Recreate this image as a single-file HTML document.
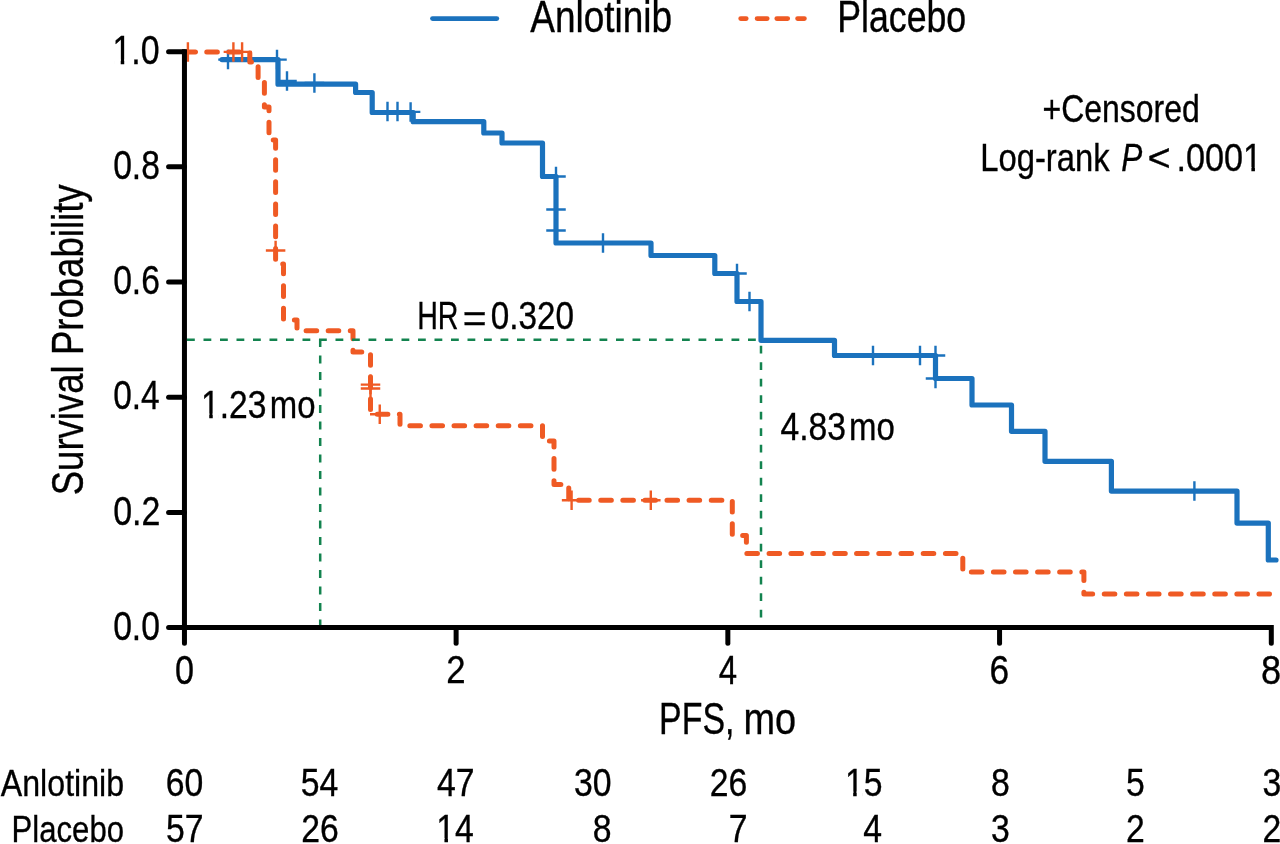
<!DOCTYPE html><html><head><meta charset="utf-8"><style>html,body{margin:0;padding:0;background:#fff;width:1280px;height:844px;overflow:hidden}svg{display:block;will-change:transform}text{font-family:"Liberation Sans",sans-serif;fill:#000;stroke:#000;stroke-width:0.35px}</style></head><body>
<svg width="1280" height="844" viewBox="0 0 1280 844">
<line x1="432.5" y1="18.6" x2="496.8" y2="18.6" stroke="#1b72bd" stroke-width="4.8" stroke-linecap="round"/>
<path d="M740.7 18.6H804.4" stroke="#ef5a24" stroke-width="4.8" stroke-linecap="round" stroke-dasharray="5.5 10.9 10.1 9.6 10.9 9.9 6.8 100"/>
<text transform="translate(530.30,31.67) scale(0.8504,1)" font-size="43.50">Anlotinib</text>
<text transform="translate(837.14,31.67) scale(0.8214,1)" font-size="43.50">Placebo</text>
<text transform="translate(112.49,63.90) scale(0.8494,1)" font-size="39.86">1.0</text>
<text transform="translate(113.15,179.09) scale(0.8446,1)" font-size="39.86">0.8</text>
<text transform="translate(113.15,294.28) scale(0.8446,1)" font-size="39.86">0.6</text>
<text transform="translate(113.16,409.47) scale(0.8382,1)" font-size="39.86">0.4</text>
<text transform="translate(113.14,524.66) scale(0.8511,1)" font-size="39.86">0.2</text>
<text transform="translate(113.15,639.85) scale(0.8446,1)" font-size="39.86">0.0</text>
<text transform="translate(174.93,683.60) scale(0.8512,1)" font-size="40.14">0</text>
<text transform="translate(446.36,683.00) scale(0.8919,1)" font-size="39.00">2</text>
<text transform="translate(718.84,683.90) scale(0.8205,1)" font-size="40.15">4</text>
<text transform="translate(989.48,683.60) scale(0.8801,1)" font-size="40.14">6</text>
<text transform="translate(1261.05,683.60) scale(0.9011,1)" font-size="40.14">8</text>
<text transform="translate(659.08,733.65) scale(0.7629,1)" font-size="44.50">PFS,</text>
<text transform="translate(743.55,733.90) scale(0.8515,1)" font-size="44.50">mo</text>
<text transform="translate(417.21,329.00) scale(0.7235,1)" font-size="39.57">HR</text>
<text transform="translate(462.76,332.40) scale(1.0338,1)" font-size="39.50">=</text>
<text transform="translate(490.87,329.01) scale(0.8526,1)" font-size="39.01">0.320</text>
<text transform="translate(201.06,417.61) scale(0.8657,1)" font-size="38.87">1.23</text>
<text transform="translate(269.80,417.70) scale(0.8433,1)" font-size="39.00">mo</text>
<text transform="translate(780.43,440.31) scale(0.8599,1)" font-size="39.15">4.83</text>
<text transform="translate(849.09,440.40) scale(0.8454,1)" font-size="39.00">mo</text>
<text transform="translate(1042.50,121.80) scale(0.8311,1)" font-size="38.50">+Censored</text>
<text transform="translate(980.28,171.40) scale(0.8301,1)" font-size="39.50">Log-rank</text>
<text transform="translate(1121.15,171.40) scale(0.7997,1)" font-size="39.50"><tspan font-style="italic">P</tspan></text>
<text transform="translate(1147.51,171.40) scale(1.0075,1)" font-size="39.50">&lt;</text>
<text transform="translate(1176.52,171.40) scale(0.8657,1)" font-size="39.50">.0001</text>
<text transform="translate(0.80,795.60) scale(0.8554,1)" font-size="37.60">Anlotinib</text>
<text transform="translate(11.61,842.30) scale(0.8320,1)" font-size="37.40">Placebo</text>
<text transform="translate(82.6,495.33) rotate(-90) scale(0.8126,1)" font-size="45.0">Survival Probability</text>
<text transform="translate(165.68,795.6) scale(0.87,1)" font-size="38.8">60</text>
<text transform="translate(166.02,842.4) scale(0.87,1)" font-size="38.8">57</text>
<text transform="translate(300.84,795.6) scale(0.87,1)" font-size="38.8">54</text>
<text transform="translate(301.18,842.4) scale(0.87,1)" font-size="38.8">26</text>
<text transform="translate(436.92,795.6) scale(0.87,1)" font-size="38.8">47</text>
<text transform="translate(436.24,842.4) scale(0.87,1)" font-size="38.8">14</text>
<text transform="translate(573.88,795.6) scale(0.87,1)" font-size="38.8">30</text>
<text transform="translate(592.78,842.4) scale(0.87,1)" font-size="38.8">8</text>
<text transform="translate(709.78,795.6) scale(0.87,1)" font-size="38.8">26</text>
<text transform="translate(728.68,842.4) scale(0.87,1)" font-size="38.8">7</text>
<text transform="translate(844.98,795.6) scale(0.87,1)" font-size="38.8">15</text>
<text transform="translate(863.21,842.4) scale(0.87,1)" font-size="38.8">4</text>
<text transform="translate(990.88,795.6) scale(0.87,1)" font-size="38.8">8</text>
<text transform="translate(990.88,842.4) scale(0.87,1)" font-size="38.8">3</text>
<text transform="translate(1125.88,795.6) scale(0.87,1)" font-size="38.8">5</text>
<text transform="translate(1125.88,842.4) scale(0.87,1)" font-size="38.8">2</text>
<text transform="translate(1262.38,795.6) scale(0.87,1)" font-size="38.8">3</text>
<text transform="translate(1262.38,842.4) scale(0.87,1)" font-size="38.8">2</text>
<rect x="114.18" y="59.51" width="6.53" height="5.99" fill="#fff"/>
<rect x="124.24" y="59.51" width="6.20" height="5.99" fill="#fff"/>
<rect x="202.74" y="413.31" width="6.50" height="5.89" fill="#fff"/>
<rect x="212.74" y="413.31" width="6.16" height="5.89" fill="#fff"/>
<rect x="1244.78" y="167.04" width="6.60" height="5.95" fill="#fff"/>
<rect x="1254.93" y="167.04" width="6.26" height="5.95" fill="#fff"/>
<rect x="437.93" y="838.10" width="6.51" height="5.88" fill="#fff"/>
<rect x="447.96" y="838.10" width="6.18" height="5.88" fill="#fff"/>
<rect x="846.67" y="791.30" width="6.51" height="5.88" fill="#fff"/>
<rect x="856.69" y="791.30" width="6.18" height="5.88" fill="#fff"/>
<path d="M222 59.6 L278 59.6 L278 84.2 L355.6 84.2 L355.6 92.5 L372.2 92.5 L372.2 112.5 L413.2 112.5 L413.2 121.7 L483.8 121.7 L483.8 133.0 L502 133.0 L502 143.0 L542.5 143.0 L542.5 176.5 L556 176.5 L556 243.0 L651 243.0 L651 255.5 L714.8 255.5 L714.8 273.5 L737 273.5 L737 301.5 L761 301.5 L761 340.3 L834.5 340.3 L834.5 355.5 L935.5 355.5 L935.5 378.5 L972 378.5 L972 405.0 L1011.5 405.0 L1011.5 431.3 L1045 431.3 L1045 461.3 L1111.4 461.3 L1111.4 491.1 L1237 491.1 L1237 523.1 L1268.3 523.1 L1268.3 560.0 L1276 560.0" stroke="#1b72bd" stroke-width="5.2" fill="none" stroke-linejoin="round" stroke-linecap="round"/>
<g stroke="#1b72bd" stroke-width="2.4" fill="none">
<path d="M218.25 59.60h19.5M228.00 49.85v19.5"/>
<path d="M267.25 59.60h19.5M277.00 49.85v19.5"/>
<path d="M277.25 81.00h19.5M287.00 71.25v19.5"/>
<path d="M304.65 83.00h19.5M314.40 73.25v19.5"/>
<path d="M377.75 111.60h19.5M387.50 101.85v19.5"/>
<path d="M387.75 111.60h19.5M397.50 101.85v19.5"/>
<path d="M400.85 111.90h19.5M410.60 102.15v19.5"/>
<path d="M546.25 176.50h19.5M556.00 166.75v19.5"/>
<path d="M546.25 209.50h19.5M556.00 199.75v19.5"/>
<path d="M546.25 230.50h19.5M556.00 220.75v19.5"/>
<path d="M593.25 243.00h19.5M603.00 233.25v19.5"/>
<path d="M727.25 273.50h19.5M737.00 263.75v19.5"/>
<path d="M739.75 301.50h19.5M749.50 291.75v19.5"/>
<path d="M863.25 355.50h19.5M873.00 345.75v19.5"/>
<path d="M910.25 355.50h19.5M920.00 345.75v19.5"/>
<path d="M925.75 355.50h19.5M935.50 345.75v19.5"/>
<path d="M925.75 378.50h19.5M935.50 368.75v19.5"/>
<path d="M1184.65 491.10h19.5M1194.40 481.35v19.5"/>
</g>
<path d="M184.75 51.90 L195.35 51.90M206.75 51.90 L217.35 51.90M228.84 51.90 L239.44 51.90M249.80 53.02 L249.80 62.00 L251.43 62.00M258.10 66.81 L258.10 77.41M264.40 82.60 L264.40 93.20M264.40 104.69 L264.40 107.00 L269.00 107.00 L269.00 110.69M269.00 122.18 L269.00 132.78M273.26 140.00 L275.60 140.00 L275.60 148.26M275.60 159.75 L275.60 170.35M275.60 181.85 L275.60 192.45M275.60 203.95 L275.60 214.55M275.60 226.05 L275.60 236.65M275.60 248.59 L275.60 259.19M282.73 264.00 L283.50 264.00 L283.50 273.83M283.50 285.78 L283.50 296.38M283.50 308.32 L283.50 318.92M294.36 320.00 L297.00 320.00 L297.00 327.96M306.10 330.80 L316.70 330.80M328.18 330.80 L338.78 330.80M350.27 330.80 L353.00 330.80 L353.00 338.67M353.00 350.15 L353.00 352.00 L361.75 352.00M370.50 354.73 L370.50 365.33M370.50 376.82 L370.50 387.42M370.50 398.90 L370.50 409.50M377.28 414.20 L387.88 414.20M399.37 414.20 L400.00 414.20 L400.00 424.17M409.85 425.80 L420.45 425.80M431.93 425.80 L442.53 425.80M454.02 425.80 L464.62 425.80M476.10 425.80 L486.70 425.80M498.23 425.80 L508.83 425.80M520.36 425.80 L530.96 425.80M542.48 425.80 L542.50 425.80 L542.50 436.38M549.41 441.00 L554.00 441.00 L554.00 447.01M554.00 458.54 L554.00 469.14M554.00 480.67 L554.00 484.40 L560.87 484.40M568.75 488.04 L568.75 498.64M578.62 500.30 L589.22 500.30M600.75 500.30 L611.35 500.30M622.83 500.30 L633.43 500.30M644.90 500.30 L655.50 500.30M666.97 500.30 L677.57 500.30M689.05 500.30 L699.65 500.30M711.25 500.30 L721.85 500.30M732.30 501.45 L732.30 512.05M732.30 523.65 L732.30 534.25M742.65 535.50 L746.40 535.50 L746.40 542.35M746.85 553.50 L757.45 553.50M769.05 553.50 L779.65 553.50M790.93 553.50 L801.52 553.50M812.80 553.50 L823.40 553.50M834.68 553.50 L845.27 553.50M856.55 553.50 L867.15 553.50M878.77 553.50 L889.37 553.50M900.98 553.50 L911.58 553.50M923.20 553.50 L933.80 553.50M945.42 553.50 L956.02 553.50M962.80 558.33 L962.80 568.93M971.35 572.00 L981.95 572.00M993.43 572.00 L1004.03 572.00M1015.50 572.00 L1026.10 572.00M1037.58 572.00 L1048.17 572.00M1059.65 572.00 L1070.25 572.00M1081.85 572.00 L1083.90 572.00 L1083.90 580.55M1083.90 592.15 L1083.90 594.00 L1092.65 594.00M1104.25 594.00 L1114.85 594.00M1126.35 594.00 L1136.95 594.00M1148.45 594.00 L1159.05 594.00M1170.55 594.00 L1181.15 594.00M1192.65 594.00 L1203.25 594.00M1214.75 594.00 L1225.35 594.00M1236.85 594.00 L1247.45 594.00M1258.95 594.00 L1269.55 594.00" stroke="#ef5a24" stroke-width="5" fill="none" stroke-linecap="round" stroke-linejoin="round"/>
<g stroke="#ef5a24" stroke-width="2.4" fill="none">
<path d="M178.15 51.90h19.5M187.90 42.15v19.5"/>
<path d="M223.65 51.90h19.5M233.40 42.15v19.5"/>
<path d="M232.35 51.90h19.5M242.10 42.15v19.5"/>
<path d="M265.85 250.50h19.5M275.60 240.75v19.5"/>
<path d="M360.75 384.60h19.5M370.50 374.85v19.5"/>
<path d="M360.75 388.50h19.5M370.50 378.75v19.5"/>
<path d="M370.00 414.30h19.5M379.75 404.55v19.5"/>
<path d="M561.85 500.30h19.5M571.60 490.55v19.5"/>
<path d="M641.05 500.30h19.5M650.80 490.55v19.5"/>
</g>
<g stroke="#13834f" stroke-width="2.5" fill="none" stroke-dasharray="7.8 8.7">
<path d="M187 339.7H761"/>
<path d="M320.2 339.1V627"/>
<path d="M761 345.7V627"/>
</g>
<g stroke="#000" stroke-width="5" fill="none" stroke-linecap="round" stroke-linejoin="miter">
<path d="M184.45 643.3V627.6H1271.3V643.3" stroke-linecap="round"/>
<path d="M184.45 627.6V49.15" stroke-linecap="butt"/>
<path d="M168.6 51.65H184.45"/>
<path d="M168.6 166.84H184.45"/>
<path d="M168.6 282.03H184.45"/>
<path d="M168.6 397.22H184.45"/>
<path d="M168.6 512.41H184.45"/>
<path d="M168.6 627.60H184.45"/>
<path d="M456.12 627.6V643.3"/>
<path d="M727.84 627.6V643.3"/>
<path d="M999.56 627.6V643.3"/>
</g>
</svg></body></html>
